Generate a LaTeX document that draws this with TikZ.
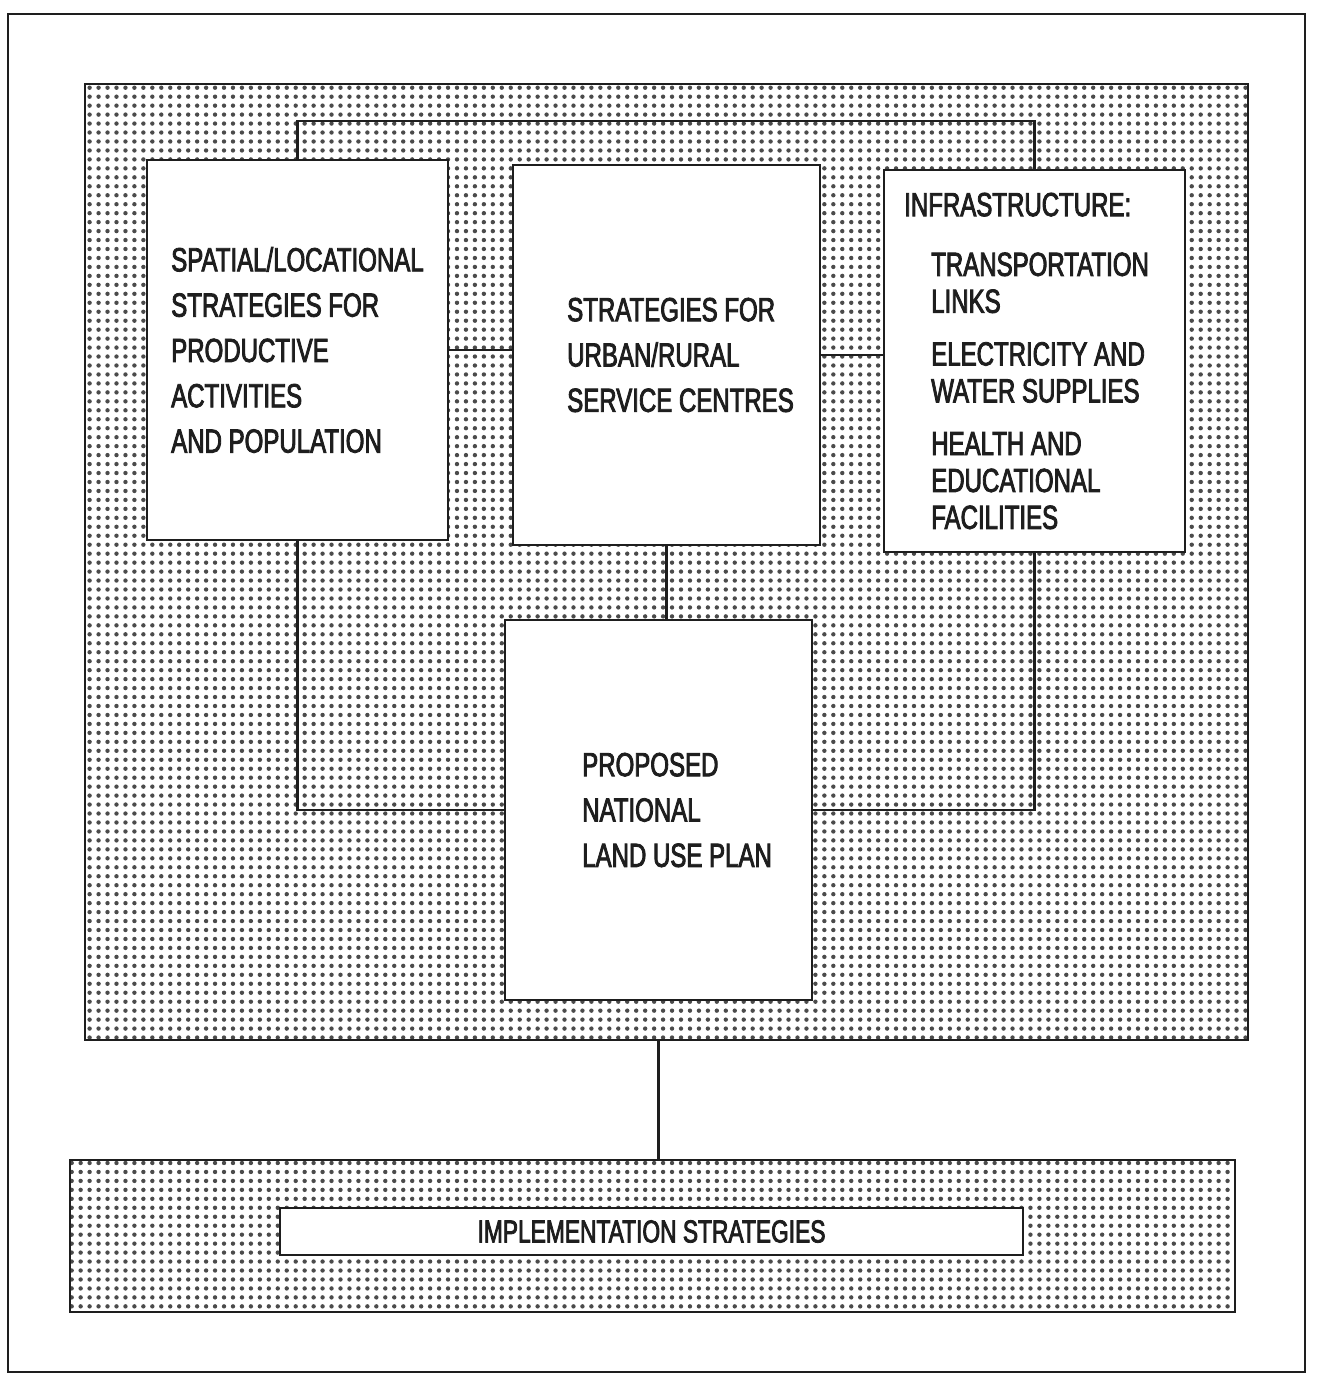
\documentclass[tikz,border=0pt]{standalone}
\usepackage{fontspec}
\setmainfont{Liberation Sans}[FakeStretch=0.72,FakeBold=2.5]
\usepackage{tikz}
\usetikzlibrary{positioning,patterns.meta}
\definecolor{ink}{HTML}{1E1E1E}
\tikzdeclarepattern{
  name=halftone, type=uncolored,
  bounding box={(-2.55pt,-2.55pt) and (2.55pt,2.55pt)},
  tile size={(5.1pt,5.1pt)},
  code={\fill (0pt,0pt) circle (1.25pt);}
}
\newcommand\boxfont{\fontsize{19}{25.8}\selectfont}
\tikzset{
  frame/.style={draw=ink, line width=1.6pt},
  panel/.style={draw=ink, line width=1.4pt, pattern=halftone, pattern color=ink!80},
  box/.style={draw=ink, line width=1.3pt, fill=white, inner sep=0pt},
  txt/.style={inner sep=0pt, align=left, text=ink, font=\boxfont},
  link/.style={draw=ink, line width=1.2pt},
}

\begin{document}
\begin{tikzpicture}[x=0.02cm,y=-0.02cm]
\useasboundingbox (0,0) rectangle (1332,1387);
\draw[frame] (8,14) rectangle (1305,1372);
% shaded panels
\node[panel, minimum width=23.26cm, minimum height=19.12cm] (stage) at (666.5,562) {};
\node[panel, minimum width=23.3cm, minimum height=3.04cm] (band) at (652.5,1236) {};
% boxes
\node[box, minimum width=6.02cm, minimum height=7.6cm] (spatial) at (297.5,350) {};
\node[box, minimum width=6.14cm, minimum height=7.6cm] (services) at (666.5,355) {};
\node[box, minimum width=6.02cm, minimum height=7.64cm] (infra) at (1034.5,361) {};
\node[box, minimum width=6.14cm, minimum height=7.6cm] (plan) at (658.5,810) {};
\node[box, minimum width=14.86cm, minimum height=0.94cm, text=ink,
  font=\fontsize{18}{20}\selectfont] (impl) at (651.5,1231.5) {IMPLEMENTATION STRATEGIES};
% connectors
\draw[link] (spatial.north) -- ++(0,-38) -| (infra.north);
\draw[link] (spatial.east) -- (spatial.east -| services.west);
\draw[link] (services.east) -- (services.east -| infra.west);
\draw[link] (services.south) -- (services.south |- plan.north);
\draw[link] (spatial.south) |- (plan.west);
\draw[link] (infra.south) |- (plan.east);
\draw[link] (plan.south |- stage.south) -- (plan.south |- band.north);
% texts
\node[txt, right=0.5cm of spatial.west] (spatialtxt) {SPATIAL/LOCATIONAL\\STRATEGIES FOR\\PRODUCTIVE\\ACTIVITIES\\AND POPULATION};
\node[txt, right=1.1cm of services.west] (servicestxt) {STRATEGIES FOR\\URBAN/RURAL\\SERVICE CENTRES};
\node[txt, right=0.42cm of infra.west, font=\fontsize{19}{21}\selectfont] (infratxt)
  {INFRASTRUCTURE:\\[13pt]
   \hspace*{0.54cm}TRANSPORTATION\\\hspace*{0.54cm}LINKS\\[9pt]
   \hspace*{0.54cm}ELECTRICITY AND\\\hspace*{0.54cm}WATER SUPPLIES\\[9pt]
   \hspace*{0.54cm}HEALTH AND\\\hspace*{0.54cm}EDUCATIONAL\\\hspace*{0.54cm}FACILITIES};
\node[txt, right=1.56cm of plan.west] (plantxt) {PROPOSED\\NATIONAL\\LAND USE PLAN};
\end{tikzpicture}
\end{document}
